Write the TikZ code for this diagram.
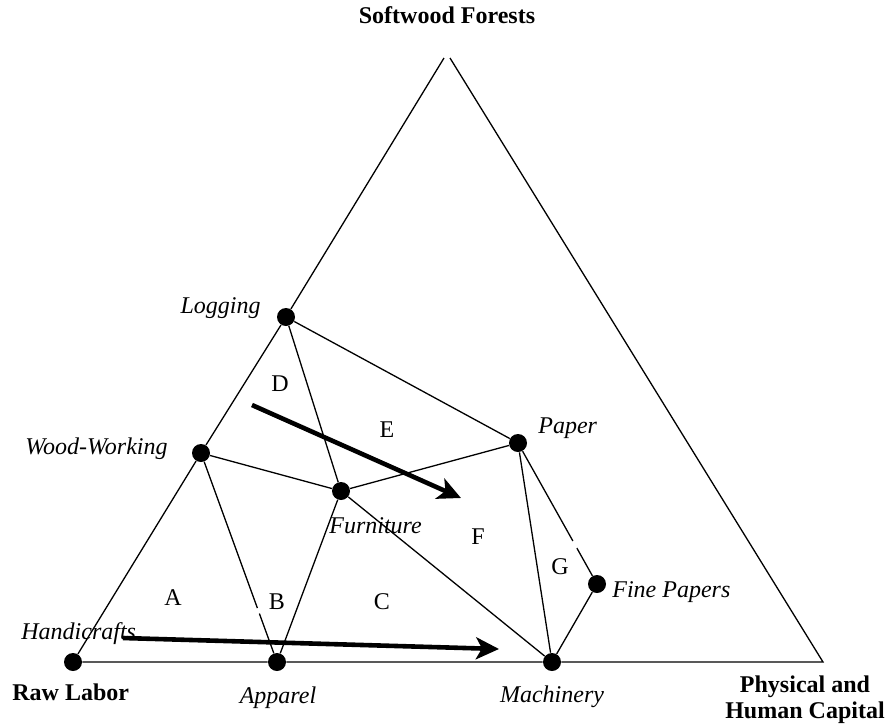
\documentclass[tikz,border=0pt]{standalone}
\usepackage{fontspec}
\setmainfont{Liberation Serif}
\usetikzlibrary{calc,arrows.meta}
\begin{document}
\begin{tikzpicture}[x=0.5pt,y=-0.5pt,
  edge/.style={line width=0.65pt},
  dot/.style={circle,fill=black,inner sep=0pt,minimum size=9pt},
  ind/.style={font=\fontsize{12}{14}\selectfont\itshape,inner sep=0pt},
  corner/.style={font=\fontsize{12}{14}\selectfont\bfseries,inner sep=0pt},
  region/.style={font=\fontsize{12}{14}\selectfont,inner sep=0pt},
  trend/.style={line width=2.3pt,-{Stealth[length=11.5pt,width=11pt,inset=3pt]}}]
\useasboundingbox (0,0) rectangle (885,725);

% corners
\coordinate (apexL) at (444,58);
\coordinate (apexR) at (450,58);
\coordinate (cornR) at (823,662);

% dots
\node[dot] (raw) at (73,662) {};
\node[dot] (app) at (277,662) {};
\node[dot] (mach) at (552,662) {};
\node[dot] (log) at (286,317) {};
\node[dot] (ww) at (201,453) {};
\node[dot] (furn) at (341,491) {};
\node[dot] (pap) at (518,443) {};
\node[dot] (fine) at (597,584) {};

% triangle
\draw[edge] (apexL) -- (log) -- (ww) -- (raw);
\draw[edge] (raw) -- (app) -- (mach) -- (cornR) -- (apexR);

% inner lines
\draw[edge] (log) -- (pap);
\draw[edge] (log) -- (furn);
\draw[edge] (ww) -- (furn);
\draw[edge] (ww) -- ($(ww)!0.742!(app)$);
\draw[edge] ($(ww)!0.768!(app)$) -- (app);
\draw[edge] (furn) -- (app);
\draw[edge] (furn) -- (pap);
\draw[edge] (furn) -- (mach);
\draw[edge] (pap) -- (mach);
\draw[edge] (pap) -- ($(pap)!0.695!(fine)$);
\draw[edge] ($(pap)!0.745!(fine)$) -- (fine);
\draw[edge] (fine) -- (mach);

% trend arrows
\coordinate (t1s) at (252,405);
\coordinate (t1e) at (461,498);
\coordinate (t2s) at (123,638);
\coordinate (t2e) at (499,649);
\draw[trend] (t1s) -- (t1e);
\draw[trend] (t2s) -- (t2e);

% industry labels
\node[ind,anchor=base east] (logl) at (261,313) {Logging};
\node[ind,anchor=base east] (wwl) at (168,454) {Wood-Working};
\node[ind,anchor=base west] (furnl) at (329,533) {Furniture};
\node[ind,anchor=base west] (papl) at (538,433) {Paper};
\node[ind,anchor=base west] (finel) at (612,597) {Fine Papers};
\node[ind,anchor=base west] (handl) at (21,639) {Handicrafts};
\node[ind,anchor=base] (appl) at (278,703) {Apparel};
\node[ind,anchor=base] (machl) at (552,702) {Machinery};

% corner labels
\node[corner,anchor=base] (topl) at (447,23) {Softwood Forests};
\node[corner,anchor=base west] (rawl) at (12,700) {Raw Labor};
\node[corner,anchor=base] (phys1) at (805,692) {Physical and};
\node[corner,anchor=base] (phys2) at (805,718) {Human Capital};

% regions
\node[region] (rA) at (173,598) {A};
\node[region] (rB) at (277,602) {B};
\node[region] (rC) at (382,602) {C};
\node[region] (rD) at (280,384) {D};
\node[region] (rE) at (387,430) {E};
\node[region] (rF) at (478,537) {F};
\node[region] (rG) at (560,567) {G};
\end{tikzpicture}
\end{document}
